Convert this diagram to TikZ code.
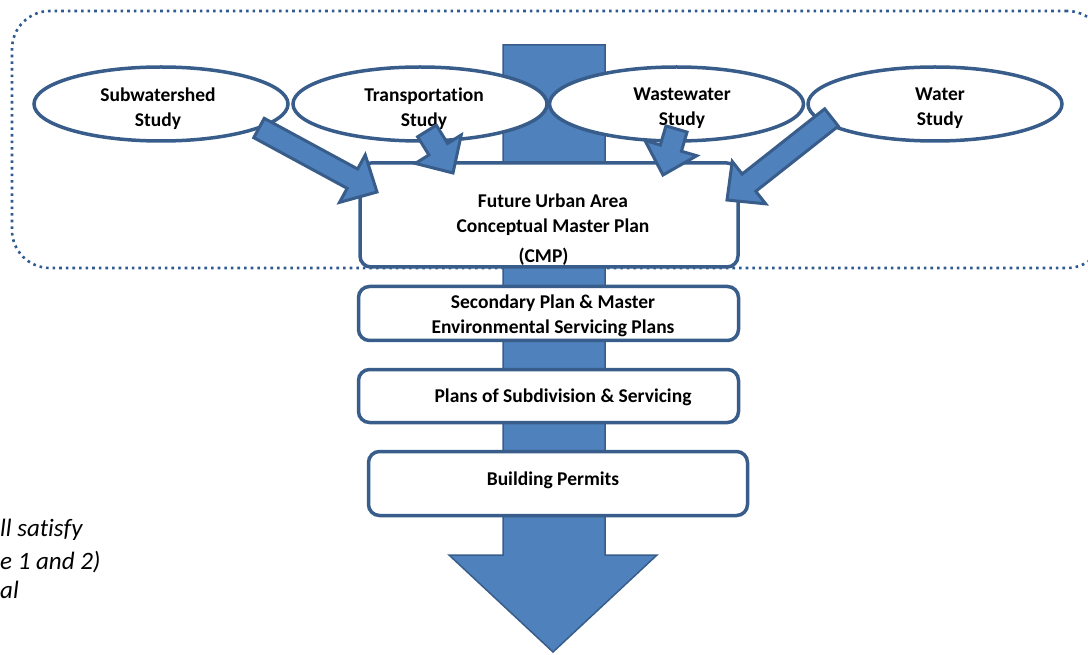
\documentclass[tikz,border=0pt]{standalone}
\usepackage{fontspec}
\setmainfont{Carlito}[Ligatures=NoCommon]
\usetikzlibrary{shapes.geometric,calc}
\definecolor{shaftblue}{HTML}{4F81BD}
\definecolor{lineblue}{HTML}{385D8A}
\definecolor{dotblue}{HTML}{2F5A8F}
\tikzset{
  frame/.style={draw=dotblue, line width=2.6pt, dash pattern=on 2.6pt off 4pt, rounded corners=38pt, inner sep=0pt},
  study/.style={ellipse, draw=lineblue, fill=white, line width=3.5pt, minimum width=254pt, minimum height=74pt, inner sep=0pt, align=center, font=\fontsize{19.5}{25}\selectfont\bfseries},
  planbox/.style={draw=lineblue, fill=white, line width=3.5pt, rounded corners=11pt, inner sep=0pt},
  lbl/.style={align=center, inner sep=0pt, font=\fontsize{19.5}{25}\selectfont\bfseries},
  barrow/.style={draw=lineblue, fill=shaftblue, line width=3pt, line join=miter},
  note/.style={inner sep=0pt, anchor=west, font=\fontsize{25}{30}\selectfont\itshape}
}
\newcommand\blockarr[2]{%
  \coordinate (ba-n) at ($(#2)!28pt!(#1)$);
  \draw[barrow] ($(#1)!11pt!90:(#2)$) -- ($(ba-n)!11pt!90:(#2)$) -- ($(ba-n)!27pt!90:(#2)$) -- (#2)
    -- ($(ba-n)!27pt!-90:(#2)$) -- ($(ba-n)!11pt!-90:(#2)$) -- ($(#1)!11pt!-90:(#2)$) -- cycle;
}
\begin{document}
\begin{tikzpicture}[x=1pt,y=-1pt]
\useasboundingbox (0,0) rectangle (1088,655);
% group frame
\node[frame, minimum width=1093pt, minimum height=257pt] (grp) at (558.5,139.5) {};
% main flow arrow
\draw[fill=shaftblue, draw=lineblue, line width=1.5pt] (503,45) -- (605,45) -- (605,555) -- (657,555) -- (553,652) -- (449,555) -- (503,555) -- cycle;
% studies
\node[study] (sub) at (161,104) {};
\node[study] (tra) at (420,104) {};
\node[study] (was) at (676.5,104) {};
\node[study] (wat) at (935,104) {};
\node[lbl] (subT) at (158,108.5) {Subwatershed\\Study};
\node[lbl] (traT) at (424,108.5) {Transportation\\Study};
\node[lbl] (wasT) at (682,108.5) {Wastewater\\Study};
\node[lbl] (watT) at (940,108.5) {Water\\Study};
% plan boxes
\node[planbox, minimum width=378pt, minimum height=104pt] (cmp) at (549,215) {};
\node[planbox, minimum width=380pt, minimum height=54pt] (sec) at (548.5,313.5) {};
\node[planbox, minimum width=380pt, minimum height=53pt] (sub2) at (548.5,396) {};
\node[planbox, minimum width=379pt, minimum height=64pt] (bp) at (558,483.5) {};
% labels
\node[lbl] (cmpT) at (553,215) {Future Urban Area\\Conceptual Master Plan};
\node[lbl] (cmpC) at (543.5,257) {(CMP)};
\node[lbl] (secT) at (553,316) {Secondary Plan \& Master\\Environmental Servicing Plans};
\node[lbl] (sub2T) at (563,397) {Plans of Subdivision \& Servicing};
\node[lbl] (bpT) at (553,480) {Building Permits};
% study arrows
\coordinate (a1s) at (259,128); \coordinate (a1e) at (377,192);
\coordinate (a2s) at (427,131); \coordinate (a2e) at (453,173);
\coordinate (a3s) at (676.5,129); \coordinate (a3e) at (663,175);
\coordinate (a4s) at (831.5,117.5); \coordinate (a4e) at (727,200);
\blockarr{a1s}{a1e}
\blockarr{a2s}{a2e}
\blockarr{a3s}{a3e}
\blockarr{a4s}{a4e}
% cut note text
\node[note] (n1) at (0,530) {ll satisfy};
\node[note] (n2) at (0,562) {e 1 and 2)};
\node[note] (n3) at (0,590) {al};
\end{tikzpicture}
\end{document}
